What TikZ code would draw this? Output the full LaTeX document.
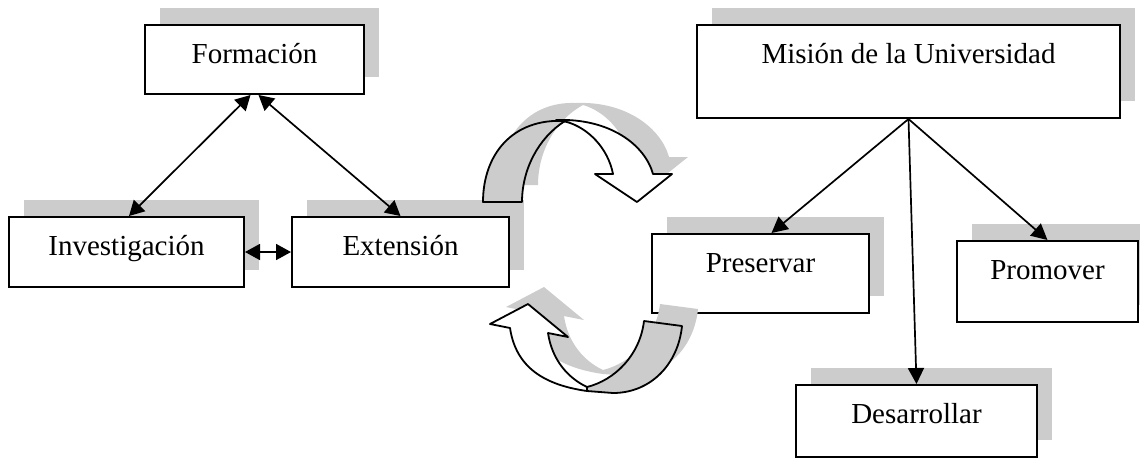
\documentclass[tikz,border=0pt]{standalone}
\usepackage{fontspec}
\setmainfont{Liberation Serif}
\usetikzlibrary{arrows.meta,shadows}
\tikzset{
  cajon/.style 2 args={draw, line width=1pt, fill=white, inner sep=0pt,
    minimum width=#1, text height=19.25pt, text depth=#2, anchor=north west,
    font=\fontsize{14.5}{17}\selectfont,
    drop shadow={shadow xshift=7.5pt, shadow yshift=8.5pt, fill=gray!40, opacity=1}},
  flecha/.style={line width=0.85pt, -{Triangle[length=8pt,width=8pt]}},
  dobleflecha/.style={line width=0.85pt, {Triangle[length=7.5pt,width=8pt]}-{Triangle[length=7.5pt,width=8pt]}},
  cinta/.style={draw, line width=0.9pt, line join=round},
  sombra/.style={fill=gray!40, draw=none, shift={(16,-17)}}
}
\begin{document}
\begin{tikzpicture}[x=0.5pt, y=-0.5pt]
    \useasboundingbox (0,0) rectangle (1140,457);

    % Funciones
    \node (form) [cajon={109.5pt}{15.25pt}] at (144,24) {Formación};
    \node (inv) [cajon={117.5pt}{15.75pt}] at (8,216) {Investigación};
    \node (ext) [cajon={108.5pt}{15.75pt}] at (291,216) {Extensión};

    \draw[dobleflecha] ([xshift=-2pt]form.south) -- ([xshift=1.25pt]inv.north);
    \draw[dobleflecha] ([xshift=2pt]form.south) -- (ext.north);
    \draw[dobleflecha] (inv.east) -- (ext.west);

    % Mision
    \node (mis) [cajon={211.5pt}{27.25pt}] at (696,24) {Misión de la Universidad};
    \node (pres) [cajon={108.5pt}{20.25pt}] at (651,233) {Preservar};
    \node (prom) [cajon={90.5pt}{21.25pt}] at (956,240) {Promover};
    \node (des) [cajon={120.5pt}{16.75pt}] at (795,384) {Desarrollar};

    \draw[flecha] (mis.south) -- ([xshift=5.5pt]pres.north);
    \draw[flecha] (mis.south) -- (des.north);
    \draw[flecha] (mis.south) -- (prom.north);

    % Flecha curva superior
    \fill[sombra] (483,202) .. controls (483,155) and (512,118) .. (560,120)
      .. controls (610,118) and (645,145) .. (653,174) -- (672,174) -- (637,202) -- (595,174) -- (613,174)
      .. controls (608,148) and (588,128) .. (567,122)
      .. controls (538,138) and (522,170) .. (522,202) -- cycle;
    \path[cinta, fill=gray!40] (483,202) .. controls (483,155) and (512,118) .. (565,121)
      .. controls (538,138) and (522,170) .. (522,202) -- cycle;
    \path[cinta, fill=white] (556,120) .. controls (610,118) and (645,145) .. (653,174)
      -- (672,174) -- (637,202) -- (595,174) -- (613,174)
      .. controls (608,148) and (588,128) .. (567,122) -- cycle;

    % Flecha curva inferior
    \fill[sombra] (510,328) .. controls (516,368) and (545,385) .. (587,391) -- (613,393)
      .. controls (650,393) and (678,365) .. (682,326) -- (644,321)
      .. controls (640,355) and (615,380) .. (587,387)
      .. controls (568,378) and (552,360) .. (548,333) -- (568,337) -- (528,304) -- (490,324) -- cycle;
    \path[cinta, fill=gray!40] (587,387) .. controls (615,380) and (640,355) .. (644,321)
      -- (682,326) .. controls (678,365) and (650,393) .. (613,393) -- (587,391) -- cycle;
    \path[cinta, fill=white] (510,328) .. controls (516,368) and (545,385) .. (587,391)
      -- (587,387) .. controls (568,378) and (552,360) .. (548,333)
      -- (568,337) -- (528,304) -- (490,324) -- cycle;
\end{tikzpicture}
\end{document}
